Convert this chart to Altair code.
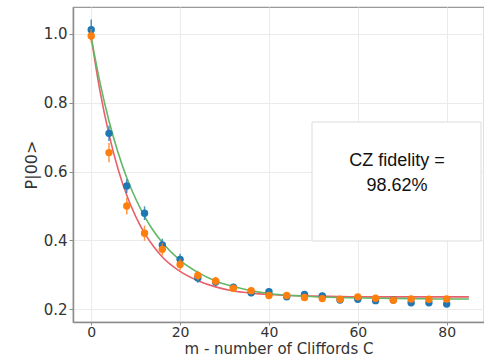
import altair as alt
import pandas as pd

# Measured data: m (number of Cliffords) and P|00>
m_vals = [0, 4, 8, 12, 16, 20, 24, 28, 32, 36, 40, 44, 48, 52, 56, 60, 64, 68, 72, 76, 80]
blue_vals = [1.012, 0.711, 0.558, 0.479, 0.387, 0.345, 0.291, 0.279, 0.264, 0.248, 0.251,
             0.236, 0.243, 0.239, 0.227, 0.229, 0.225, 0.227, 0.219, 0.219, 0.215]
blue_err = [0.030, 0.022, 0.020, 0.020, 0.018, 0.016, 0.014, 0.012, 0.010, 0.010, 0.010,
            0.009, 0.009, 0.009, 0.008, 0.008, 0.008, 0.008, 0.008, 0.008, 0.008]
orange_vals = [0.994, 0.655, 0.500, 0.421, 0.374, 0.330, 0.298, 0.282, 0.261, 0.254, 0.240,
               0.240, 0.234, 0.231, 0.229, 0.236, 0.232, 0.226, 0.230, 0.229, 0.230]
orange_err = [0.020, 0.028, 0.025, 0.022, 0.018, 0.016, 0.014, 0.012, 0.010, 0.010, 0.010,
              0.009, 0.009, 0.009, 0.008, 0.008, 0.008, 0.008, 0.008, 0.008, 0.008]

# Fitted curves
fit_m = [0, 2, 4, 6, 8, 10, 12, 14, 16, 20, 24, 28, 32, 36, 40, 48, 56, 64, 72, 80, 85]
green_fit = [0.990, 0.857, 0.747, 0.657, 0.582, 0.521, 0.470, 0.428, 0.394, 0.342, 0.307,
             0.282, 0.266, 0.254, 0.246, 0.238, 0.234, 0.232, 0.231, 0.230, 0.230]
red_fit = [0.990, 0.832, 0.708, 0.609, 0.531, 0.470, 0.421, 0.383, 0.352, 0.310, 0.283,
           0.265, 0.253, 0.247, 0.243, 0.239, 0.237, 0.236, 0.236, 0.236, 0.236]

x_ticks = [0, 20, 40, 60, 80]
y_ticks = [0.2, 0.4, 0.6, 0.8, 1.0]
annotation = ["CZ fidelity =", "98.62%"]

pts = pd.DataFrame({
    "m": m_vals * 2,
    "p": blue_vals + orange_vals,
    "err": blue_err + orange_err,
    "s": ["blue"] * len(m_vals) + ["orange"] * len(m_vals),
})
pts["lo"] = pts["p"] - pts["err"]
pts["hi"] = pts["p"] + pts["err"]

fits = pd.DataFrame({
    "m": fit_m * 2,
    "p": red_fit + green_fit,
    "s": ["red"] * len(fit_m) + ["green"] * len(fit_m),
})

xs = alt.Scale(domain=[-4.1, 88.4], nice=False, zero=False)
ys = alt.Scale(domain=[0.163, 1.078], nice=False, zero=False)

xax = alt.Axis(values=x_ticks, title="m - number of Cliffords C", format="d",
               titleBaseline="alphabetic", titleY=31, titleFontSize=15,
               labelPadding=0, tickSize=3, labelFontSize=14)
yax = alt.Axis(values=y_ticks, title="P|00>", format=".1f")

base_f = alt.Chart(fits)
red_line = base_f.transform_filter(alt.datum.s == "red").mark_line(
    color="#e8606a", strokeWidth=1.6, interpolate="monotone"
).encode(x=alt.X("m:Q", scale=xs, axis=xax), y=alt.Y("p:Q", scale=ys, axis=yax))
green_line = base_f.transform_filter(alt.datum.s == "green").mark_line(
    color="#62b866", strokeWidth=1.6, interpolate="monotone"
).encode(x=alt.X("m:Q", scale=xs), y=alt.Y("p:Q", scale=ys))

layers = [red_line, green_line]
for name, col in [("blue", "#1f77b4"), ("orange", "#ff7f0e")]:
    b = alt.Chart(pts).transform_filter(alt.datum.s == name)
    layers.append(b.mark_rule(color=col, strokeWidth=1.5, opacity=0.8).encode(
        x=alt.X("m:Q", scale=xs), y=alt.Y("lo:Q", scale=ys), y2="hi:Q"))
    layers.append(b.mark_circle(color=col, size=55, opacity=1).encode(
        x=alt.X("m:Q", scale=xs), y=alt.Y("p:Q", scale=ys)))

box = alt.Chart(pd.DataFrame({"k": [0]})).mark_rect(
    fill="white", stroke="#dcdcdc", strokeWidth=1
).encode(x=alt.value(239), x2=alt.value(408), y=alt.value(115), y2=alt.value(234))
t1 = alt.Chart(pd.DataFrame({"t": [annotation[0]]})).mark_text(
    font="Liberation Sans", fontSize=18, color="#111", align="center", baseline="middle"
).encode(x=alt.value(324), y=alt.value(154), text="t:N")
t2 = alt.Chart(pd.DataFrame({"t": [annotation[1]]})).mark_text(
    font="Liberation Sans", fontSize=18, color="#111", align="center", baseline="middle"
).encode(x=alt.value(324), y=alt.value(179), text="t:N")

chart = alt.layer(*layers, box, t1, t2).properties(
    width=411, height=315,
    autosize=alt.AutoSizeParams(type="none"),
    padding={"left": 73, "top": 7, "right": 0, "bottom": 35},
    background="white",
).configure_view(
    stroke="#9a9a9a", strokeWidth=1.2
).configure_axis(
    grid=True, gridColor="#ebebeb", gridWidth=1,
    domainColor="#8c8c8c", domainWidth=1.5,
    tickColor="#8c8c8c", tickSize=4, tickWidth=1,
    labelFont="DejaVu Sans", labelFontSize=15, labelColor="#333333",
    titleFont="DejaVu Sans", titleFontSize=16, titleColor="#333333", titleFontWeight="normal",
    labelPadding=2,
).configure_axisY(
    titlePadding=4,
)

chart.save("out.html", embed_options={"renderer": "svg", "actions": False})
